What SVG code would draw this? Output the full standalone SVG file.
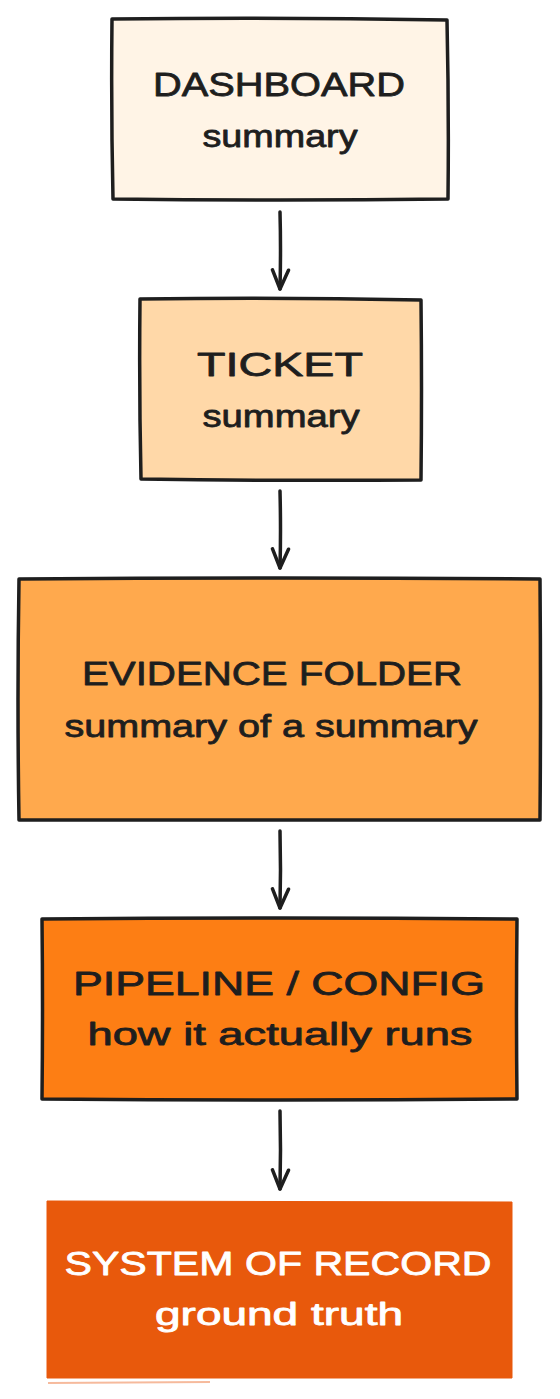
<svg xmlns="http://www.w3.org/2000/svg" width="560" height="1399" viewBox="0 0 560 1399">
<style>
.box{stroke:#1e1e1e;stroke-width:3.5;stroke-linejoin:round;stroke-linecap:round}
.t{font-family:"Liberation Sans","DejaVu Sans",sans-serif;fill:#1e1e1e;stroke:#1e1e1e;stroke-width:0.8;stroke-linejoin:round;text-anchor:middle}
.h{font-size:34px}
.s{font-size:31px}
.w{fill:#ffffff;stroke:#ffffff}
.conn{stroke:#1e1e1e;stroke-width:3.5;fill:none;stroke-linecap:round;stroke-linejoin:round}
</style>
<defs>
<marker id="ah" viewBox="0 0 24 24" refX="21" refY="12" markerWidth="24" markerHeight="24" markerUnits="userSpaceOnUse" orient="auto">
<path d="M2 4 L21 12 L2 20" fill="none" stroke="#1e1e1e" stroke-width="3.5" stroke-linecap="round" stroke-linejoin="round"/>
</marker>
</defs>
<rect width="560" height="1399" fill="#ffffff"/>
<g id="dashboard">
<path class="box" fill="#fff4e6" d="M112 19 Q280 17 447 20 Q449 110 448 199 Q280 201 113 199 Q111 110 112 19 Z"/>
<text class="t h" x="279" y="96" textLength="252" lengthAdjust="spacingAndGlyphs">DASHBOARD</text>
<text class="t s" x="280" y="147" textLength="155" lengthAdjust="spacingAndGlyphs">summary</text>
</g>
<g id="ticket">
<path class="box" fill="#ffd8a8" d="M140 299 Q280 297 421 300 Q422 390 421 480 Q280 481 141 479 Q139 390 140 299 Z"/>
<text class="t h" x="280" y="376" textLength="166" lengthAdjust="spacingAndGlyphs">TICKET</text>
<text class="t s" x="281" y="427" textLength="157" lengthAdjust="spacingAndGlyphs">summary</text>
</g>
<g id="evidence">
<path class="box" fill="#ffa94d" d="M19 579 Q280 577 540 579 Q541 700 540 820 Q280 821 19 820 Q17 700 19 579 Z"/>
<text class="t h" x="272" y="685" textLength="380" lengthAdjust="spacingAndGlyphs">EVIDENCE FOLDER</text>
<text class="t s" x="271" y="737" textLength="413" lengthAdjust="spacingAndGlyphs">summary of a summary</text>
</g>
<g id="pipeline">
<path class="box" fill="#fd7e14" d="M42 919 Q280 917 517 919 Q516 1010 517 1099 Q280 1101 42 1099 Q43 1010 42 919 Z"/>
<text class="t h" x="279" y="995" textLength="412" lengthAdjust="spacingAndGlyphs">PIPELINE / CONFIG</text>
<text class="t s" x="280" y="1045" textLength="385" lengthAdjust="spacingAndGlyphs">how it actually runs</text>
</g>
<g id="system">
<path fill="#e8590c" stroke="#e8590c" stroke-width="1" d="M47 1201 L512 1202 L512 1378 L47 1378 Z"/>
<path d="M48 1383 L210 1382" stroke="#f08c5a" stroke-width="2" fill="none" opacity="0.6"/>
<text class="t h w" x="278" y="1275" textLength="427" lengthAdjust="spacingAndGlyphs">SYSTEM OF RECORD</text>
<text class="t s w" x="279" y="1325" textLength="248" lengthAdjust="spacingAndGlyphs">ground truth</text>
</g>
<g id="connectors">
<path class="conn" d="M280 212 Q281 250 280 289" marker-end="url(#ah)"/>
<path class="conn" d="M280 491 Q281 530 280 568" marker-end="url(#ah)"/>
<path class="conn" d="M280 831 Q281 870 280 908" marker-end="url(#ah)"/>
<path class="conn" d="M280 1111 Q281 1150 280 1189" marker-end="url(#ah)"/>
</g>
</svg>
